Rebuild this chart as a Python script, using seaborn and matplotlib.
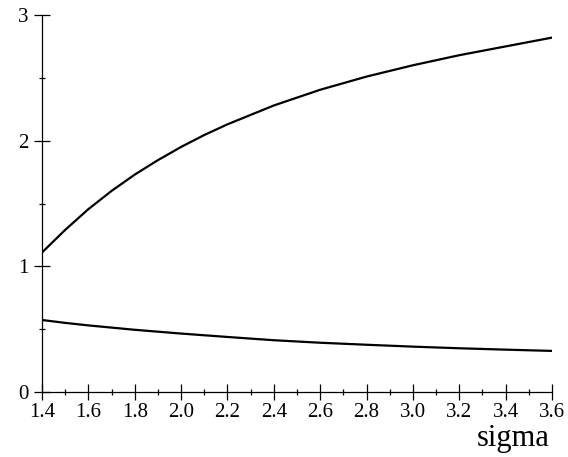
import numpy as np
import pandas as pd
import matplotlib
matplotlib.use("Agg")
import matplotlib.pyplot as plt
import seaborn as sns
from matplotlib.ticker import MultipleLocator

sigma_u = [1.4, 1.5, 1.6, 1.7, 1.8, 1.9, 2.0, 2.1, 2.2, 2.4, 2.6, 2.8, 3.0, 3.2, 3.4, 3.6]
upper = [1.11, 1.29, 1.455, 1.60, 1.73, 1.845, 1.95, 2.045, 2.13, 2.28, 2.405, 2.51, 2.60, 2.68, 2.75, 2.82]
sigma_l = [1.4, 1.5, 1.6, 1.8, 2.0, 2.2, 2.4, 2.6, 2.8, 3.0, 3.2, 3.4, 3.6]
lower = [0.573, 0.55, 0.53, 0.495, 0.465, 0.438, 0.412, 0.392, 0.376, 0.361, 0.348, 0.337, 0.327]
x_ticks = [1.4, 1.6, 1.8, 2.0, 2.2, 2.4, 2.6, 2.8, 3.0, 3.2, 3.4, 3.6]
y_ticks = [0, 1, 2, 3]
x_label = "sigma"

sns.set_theme(style="white")
plt.rcParams['font.family'] = ['Liberation Serif', 'DejaVu Serif']

df = pd.DataFrame({
    "sigma": sigma_u + sigma_l,
    "value": upper + lower,
    "curve": ["upper"] * len(sigma_u) + ["lower"] * len(sigma_l),
})

fig = plt.figure(figsize=(5.68, 4.57), dpi=100)
ax = fig.add_axes([42/568, 1 - 392/457, 510/568, 377/457])
sns.lineplot(data=df, x="sigma", y="value", units="curve", estimator=None,
             color="black", linewidth=1.6, ax=ax, legend=False)

ax.set_xlim(1.4, 3.6)
ax.set_ylim(0, 3)
ax.set_xticks(x_ticks)
ax.set_xticklabels([f"{v:.1f}" for v in x_ticks])
ax.set_yticks(y_ticks)
ax.set_yticklabels([str(v) for v in y_ticks])
ax.xaxis.set_minor_locator(MultipleLocator(0.1))
ax.yaxis.set_minor_locator(MultipleLocator(0.5))
for s in ["top", "right"]:
    ax.spines[s].set_visible(False)
for s in ["left", "bottom"]:
    ax.spines[s].set_color("black")
    ax.spines[s].set_linewidth(0.9)
ax.tick_params(which="major", direction="inout", length=11.5, width=0.9,
               color="black", labelsize=15, labelcolor="black",
               bottom=True, left=True)
ax.tick_params(axis="x", which="major", pad=2)
ax.tick_params(axis="y", which="major", pad=4)
ax.tick_params(which="minor", direction="inout", length=5, width=0.9,
               color="black", bottom=True, left=True)
ax.set_xlabel("")
ax.set_ylabel("")
fig.text(550/568, 1 - 446/457, x_label, ha="right", va="baseline",
         fontsize=22, color="black")

fig.savefig("out.png", dpi=100, facecolor="white")
